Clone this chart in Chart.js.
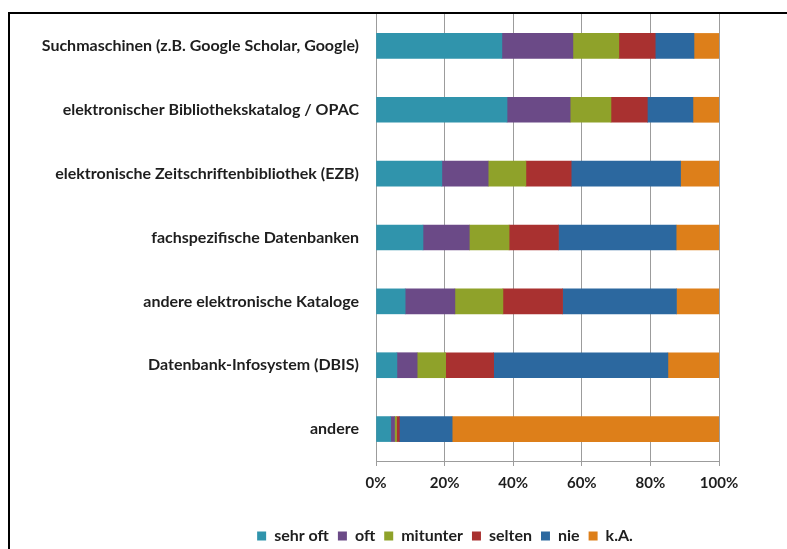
<!DOCTYPE html>
<html>
<head>
<meta charset="utf-8">
<script src="https://cdn.jsdelivr.net/npm/chart.js@4.4.1/dist/chart.umd.min.js"></script>
<style>
  html, body { margin: 0; padding: 0; background: #fff; overflow: hidden; }
  #frame {
    position: absolute; left: 8px; top: 12px;
    width: 870px; height: 540px;
    border-top: 2px solid #000; border-left: 2px solid #000;
  }
</style>
</head>
<body>
<div id="frame"><canvas id="mainChart"></canvas></div>
<script>
var categories = [
    "Suchmaschinen (z.B. Google Scholar, Google)",
    "elektronischer Bibliothekskatalog / OPAC",
    "elektronische Zeitschriftenbibliothek (EZB)",
    "fachspezifische Datenbanken",
    "andere elektronische Kataloge",
    "Datenbank-Infosystem (DBIS)",
    "andere"
];
var sehrOft  = [36.7, 38.2, 19.2, 13.7,  8.5,  6.1,  4.3];
var oft      = [20.7, 18.4, 13.5, 13.5, 14.5,  5.9,  1.1];
var mitunter = [13.4, 11.9, 11.0, 11.6, 14.0,  8.3,  0.6];
var selten   = [10.6, 10.6, 13.2, 14.4, 17.4, 14.0,  0.8];
var nie      = [11.3, 13.3, 31.9, 34.3, 33.2, 50.8, 15.4];
var kA       = [ 7.3,  7.6, 11.2, 12.5, 12.4, 14.9, 77.8];
var xTicks = [0, 20, 40, 60, 80, 100];

Chart.defaults.font.family = "Lato, 'Open Sans', sans-serif";
Chart.defaults.font.weight = "bold";
Chart.defaults.color = "#1e1e1e";

function series(label, data, color) {
    return {
        label: label,
        data: data,
        backgroundColor: color,
        borderWidth: 0,
        barThickness: 25,
        yAxisID: "y",
    };
}

// no half-label padding above/below the category axis
function noPad(scale) {
    scale.paddingTop = 0;
    scale.paddingBottom = 0;
}

var ctx = document.getElementById("mainChart").getContext("2d");
var myChart = new Chart(ctx, {
    type: "bar",
    data: {
        labels: categories,
        datasets: [
            series("sehr oft", sehrOft, "#3094ac"),
            series("oft", oft, "#6b4a87"),
            series("mitunter", mitunter, "#8fa22a"),
            series("selten", selten, "#a93130"),
            series("nie", nie, "#2c689f"),
            series("k.A.", kA, "#dd7f1a"),
        ],
    },
    options: {
        indexAxis: "y",
        responsive: true,
        maintainAspectRatio: false,
        animation: false,
        layout: {
            padding: { top: 0, right: 0, bottom: 0, left: 0 }
        },
        scales: {
            x: {
                stacked: true,
                min: 0,
                max: 100,
                afterBuildTicks: function (scale) {
                    scale.ticks = xTicks.map(function (v) { return { value: v }; });
                },
                ticks: {
                    font: { size: 15 },
                    padding: 8,
                    callback: function (v) { return v + "%"; },
                },
                grid: { color: "#9c9c9c", lineWidth: 1, tickLength: 5 },
                border: { color: "#9c9c9c" },
                afterFit: function (scale) { scale.height = 58; },
            },
            y: {
                stacked: true,
                ticks: { font: { size: 16 }, padding: 17 },
                grid: { display: false, drawTicks: false },
                border: { display: true, color: "#9c9c9c" },
                afterFit: function (scale) { scale.width = 366; noPad(scale); },
            },
            // empty strip on the right, so the legend stays centred on the whole frame
            pad: {
                axis: "y",
                position: "right",
                ticks: { display: false },
                grid: { display: false, drawTicks: false },
                border: { display: false },
                afterFit: function (scale) { scale.width = 161; noPad(scale); },
            },
        },
        plugins: {
            tooltip: { enabled: false },
            legend: {
                position: "bottom",
                labels: {
                    boxWidth: 9,
                    boxHeight: 9,
                    padding: 9,
                    font: { size: 16 },
                },
            },
        },
    },
});
</script>
</body>
</html>
